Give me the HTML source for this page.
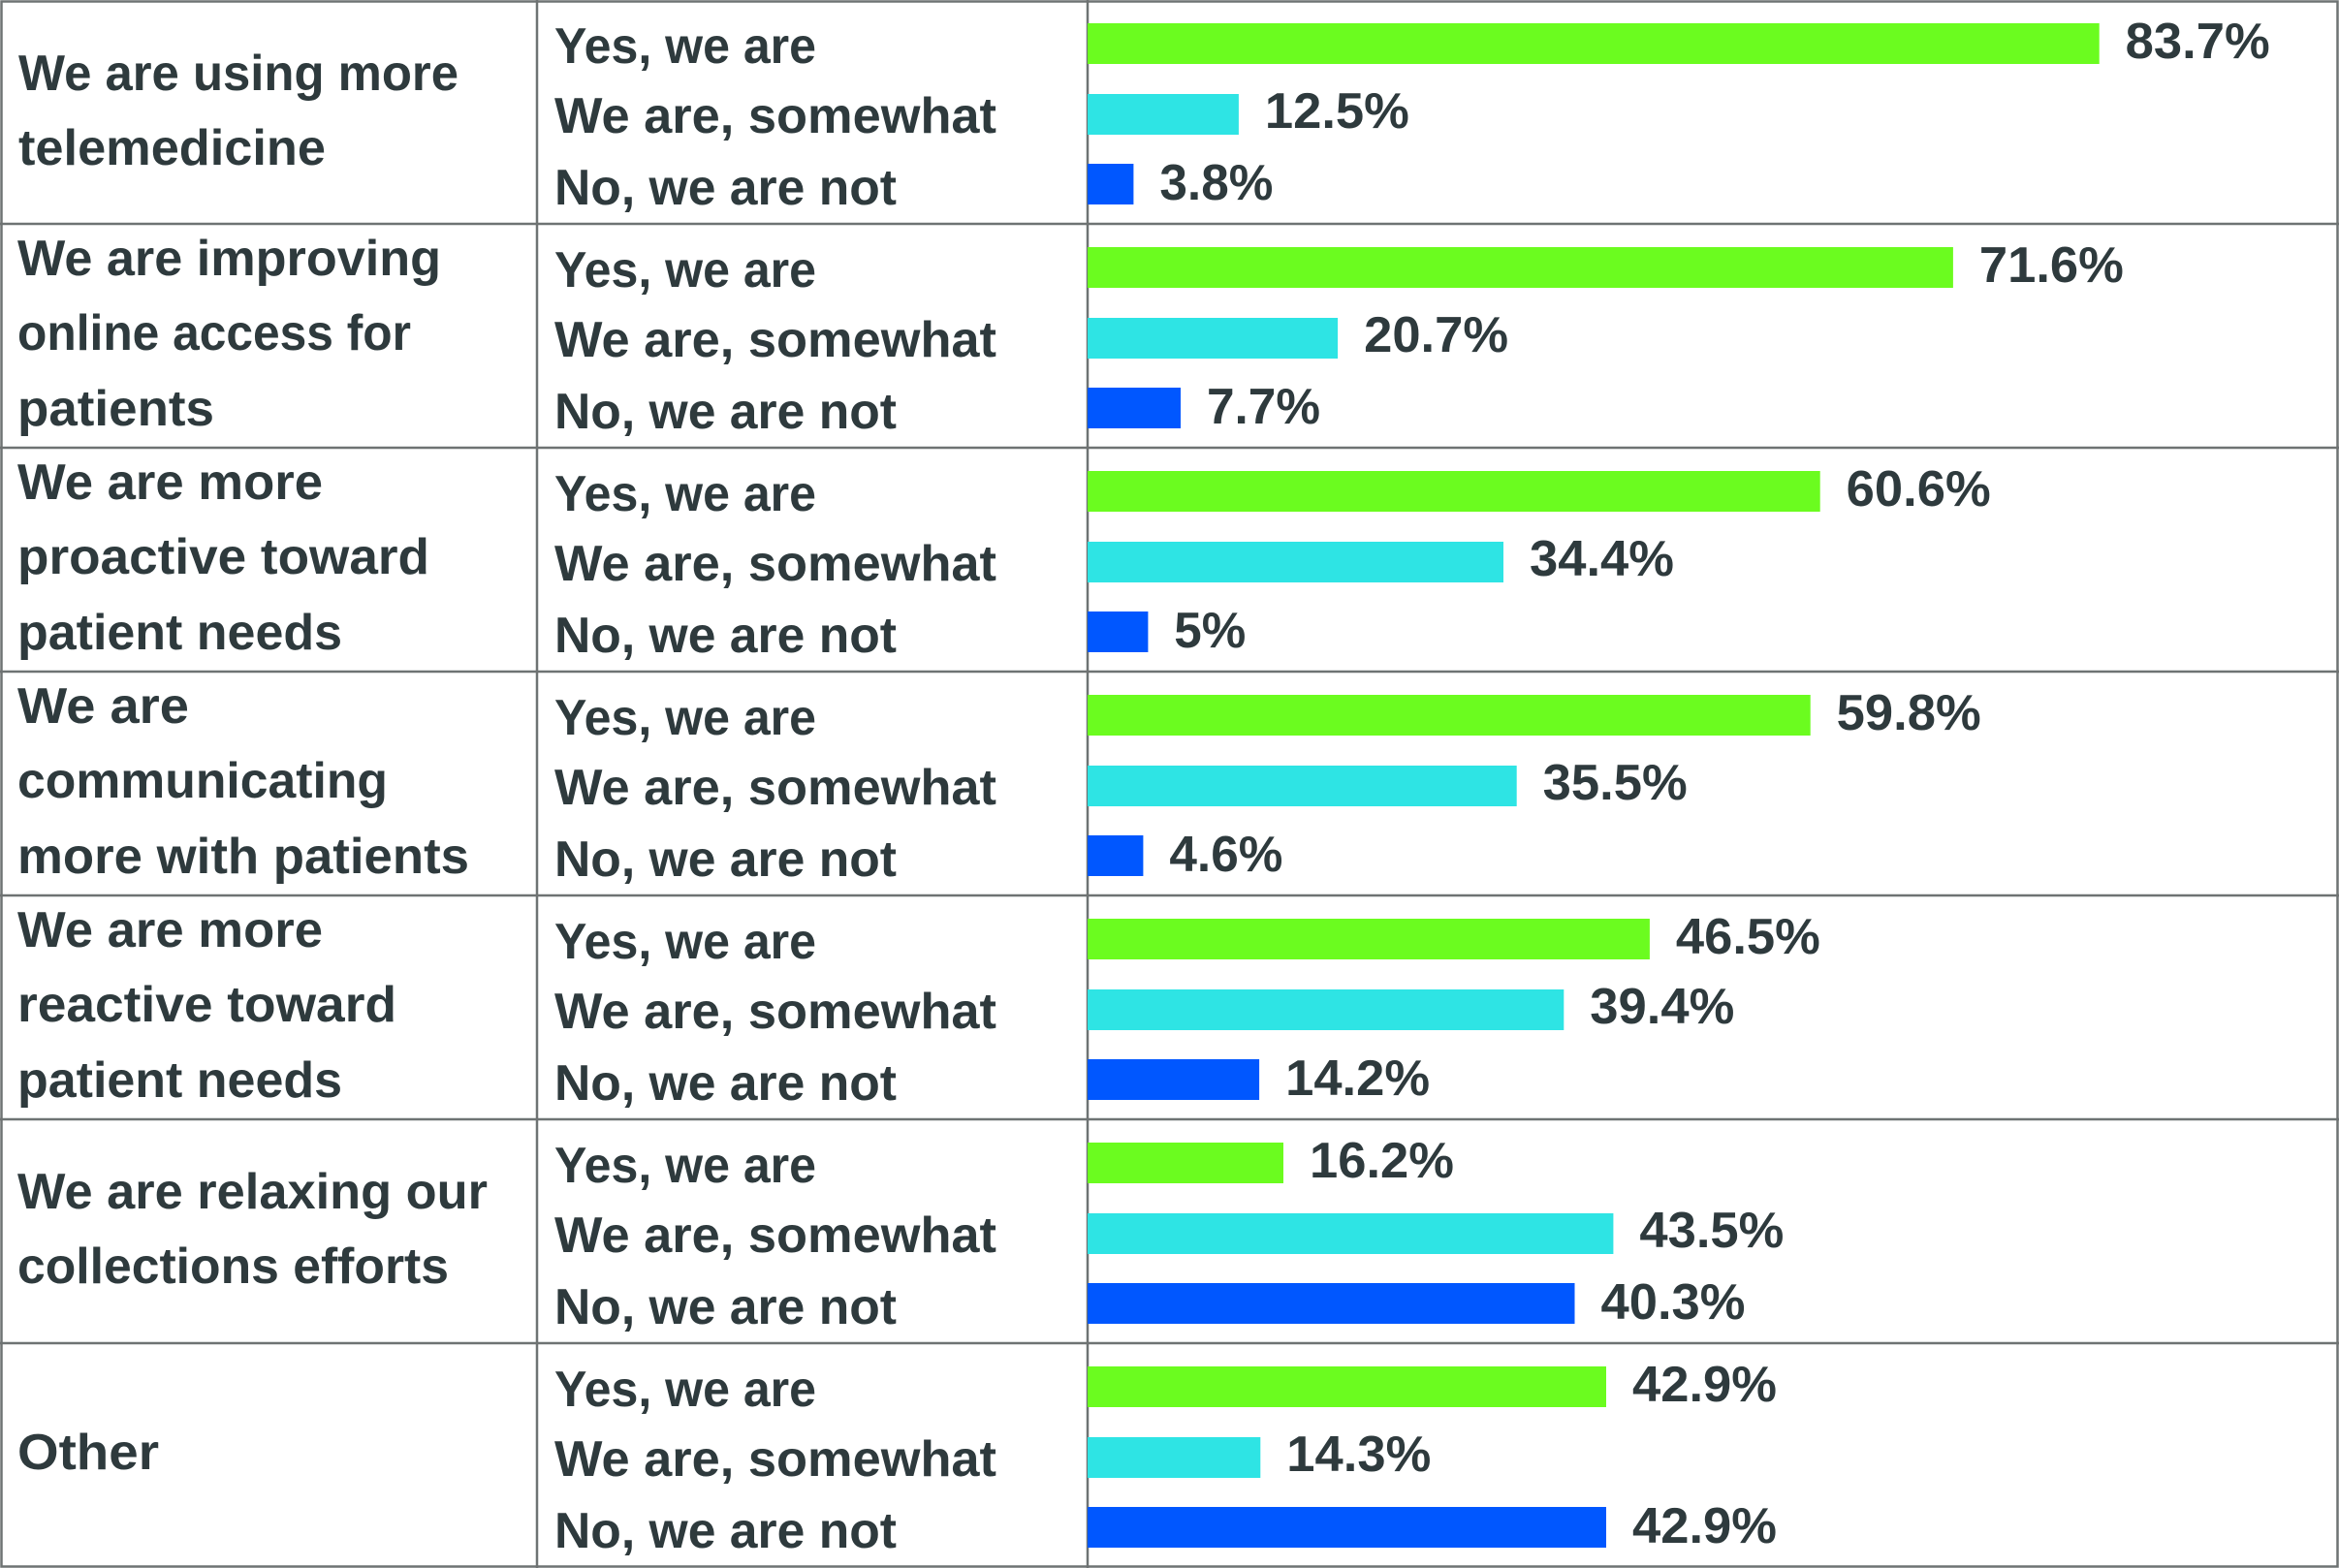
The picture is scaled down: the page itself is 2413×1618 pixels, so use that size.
<!DOCTYPE html>
<html><head><meta charset="utf-8"><style>
html,body{margin:0;padding:0;background:#fff;}
svg{display:block;}
text{font-family:"Liberation Sans",sans-serif;font-weight:bold;font-size:52px;fill:#2e3a3d;}
</style></head><body>
<svg width="2413" height="1618" viewBox="0 0 2413 1618" xmlns="http://www.w3.org/2000/svg">
<rect x="0" y="0" width="2413" height="1618" fill="#fff"/>
<g stroke="#6e7373" stroke-width="2.5" fill="none">
<rect x="1.5" y="1.5" width="2410" height="1615"/>
<line x1="554" y1="0" x2="554" y2="1618"/>
<line x1="1122" y1="0" x2="1122" y2="1618"/>
<line x1="0" y1="231" x2="2413" y2="231"/>
<line x1="0" y1="462" x2="2413" y2="462"/>
<line x1="0" y1="693" x2="2413" y2="693"/>
<line x1="0" y1="924" x2="2413" y2="924"/>
<line x1="0" y1="1155" x2="2413" y2="1155"/>
<line x1="0" y1="1386" x2="2413" y2="1386"/>
</g>
<!-- left labels -->
<text x="19" y="93" textLength="454" lengthAdjust="spacingAndGlyphs">We are using more</text>
<text x="19" y="170" textLength="317" lengthAdjust="spacingAndGlyphs">telemedicine</text>
<text x="18" y="284" textLength="437" lengthAdjust="spacingAndGlyphs">We are improving</text>
<text x="18" y="361" textLength="406" lengthAdjust="spacingAndGlyphs">online access for</text>
<text x="18" y="439" textLength="203" lengthAdjust="spacingAndGlyphs">patients</text>
<text x="18" y="515" textLength="315" lengthAdjust="spacingAndGlyphs">We are more</text>
<text x="18" y="592" textLength="425" lengthAdjust="spacingAndGlyphs">proactive toward</text>
<text x="18" y="670" textLength="335" lengthAdjust="spacingAndGlyphs">patient needs</text>
<text x="18" y="746" textLength="177" lengthAdjust="spacingAndGlyphs">We are</text>
<text x="18" y="823" textLength="382" lengthAdjust="spacingAndGlyphs">communicating</text>
<text x="18" y="901" textLength="466" lengthAdjust="spacingAndGlyphs">more with patients</text>
<text x="18" y="977" textLength="315" lengthAdjust="spacingAndGlyphs">We are more</text>
<text x="18" y="1054" textLength="391" lengthAdjust="spacingAndGlyphs">reactive toward</text>
<text x="18" y="1132" textLength="335" lengthAdjust="spacingAndGlyphs">patient needs</text>
<text x="18" y="1247" textLength="485" lengthAdjust="spacingAndGlyphs">We are relaxing our</text>
<text x="18" y="1324" textLength="445" lengthAdjust="spacingAndGlyphs">collections efforts</text>
<text x="18" y="1516" textLength="146" lengthAdjust="spacingAndGlyphs">Other</text>
<g id="rows"></g>
</svg>
<script>
var data=[[83.7,12.5,3.8],[71.6,20.7,7.7],[60.6,34.4,5],[59.8,35.5,4.6],[46.5,39.4,14.2],[16.2,43.5,40.3],[42.9,14.3,42.9]];
var cols=["#6bfc1f","#2ee4e4","#0057ff"],labs=["Yes, we are","We are, somewhat","No, we are not"],lw=[270,456,353];
var barOff=[24,97,169],ansB=[65,137,211],pctB=[60,132,206];
var g=document.getElementById("rows"),ns="http://www.w3.org/2000/svg",h="";
data.forEach(function(r,i){var top=i*231;
r.forEach(function(v,j){var w=v*12.47;
h+='<rect x="1122" y="'+(top+barOff[j])+'" width="'+w.toFixed(1)+'" height="42" fill="'+cols[j]+'"/>';
h+='<text x="572" y="'+(top+ansB[j])+'" textLength="'+lw[j]+'" lengthAdjust="spacingAndGlyphs">'+labs[j]+'</text>';
var s=v+"%",tl=s.length==2?74:(s.length==4?117:149);
h+='<text x="'+(1122+w+27).toFixed(1)+'" y="'+(top+pctB[j])+'" textLength="'+tl+'" lengthAdjust="spacingAndGlyphs">'+s+'</text>';
});});
g.innerHTML=h;
</script>
</body></html>
